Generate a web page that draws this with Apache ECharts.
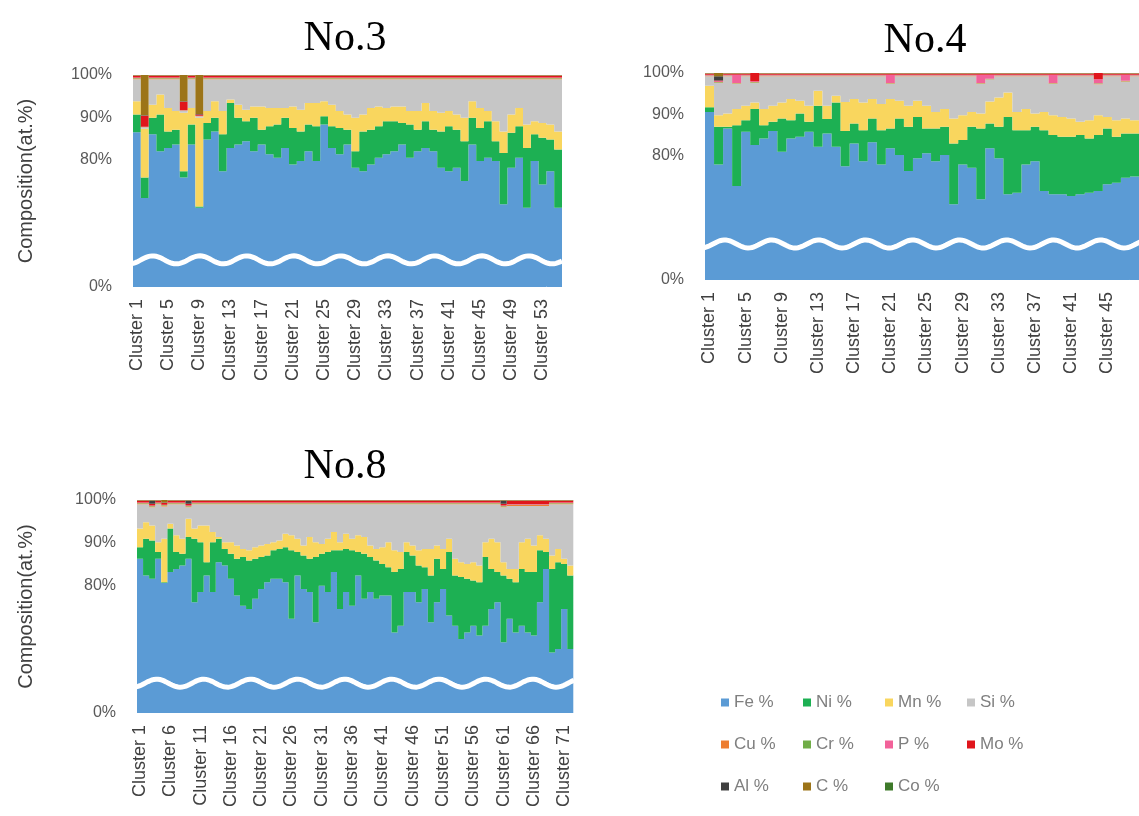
<!DOCTYPE html>
<html><head><meta charset="utf-8">
<script src="https://cdn.jsdelivr.net/npm/echarts@6/dist/echarts.min.js"></script>
<style>html,body{margin:0;padding:0;background:#fff}#c{width:1139px;height:816px}</style>
</head><body><div id="c"></div>
<script>
// ---------- shared ----------
const elements = ['Fe %','Ni %','Mn %','Si %','Cu %','Cr %','P %','Mo %','Al %','C %','Co %'];
const colors   = ['#5B9BD5','#1DB053','#F9D65E','#C6C6C6','#ED7D31','#70AD47','#F2629A','#E0161C','#404040','#9C7418','#3E7A2A'];
const yTickLabels = {100:'100%', 90:'90%', 80:'80%', 50:'0%'}; // axis is broken: bottom shown as 0%

// ---------- No.3 (55 clusters) ----------
const n3Fe = [86.5,71.0,86.0,82.0,82.8,83.6,75.8,83.6,68.7,84.8,86.7,77.3,82.8,83.6,84.4,82.0,83.6,81.3,80.5,82.8,78.9,79.7,82.0,79.7,88.3,82.8,81.3,83.6,78.1,77.3,78.9,80.5,81.3,82.0,83.6,80.5,82.0,82.8,82.0,78.1,77.3,78.1,75.0,83.6,79.7,80.5,79.7,69.5,78.1,80.5,68.7,79.7,74.2,77.3,68.7];
const n3Ni = [4.2,4.8,3.9,8.7,3.9,3.5,1.5,4.7,0.3,3.9,3.2,8.7,10.6,6.3,4.7,7.9,3.5,6.6,7.8,7.1,8.6,7.0,6.3,8.2,2.0,5.1,6.2,3.5,3.9,9.4,8.2,7.4,7.8,7.1,5.1,7.8,5.1,6.3,5.1,8.6,10.6,9.0,9.4,6.3,7.8,8.6,4.7,12.1,8.3,7.4,14.1,6.3,11.0,7.5,13.7];
const n3Mn = [3.1,11.5,3.1,4.7,5.5,4.4,13.8,3.9,20.9,2.8,3.9,5.5,0.8,3.1,2.7,2.7,5.5,4.3,3.9,2.3,5.1,5.1,5.1,5.5,3.5,5.1,4.0,3.6,7.9,4.0,5.1,4.7,3.1,3.5,3.9,3.2,4.4,4.3,4.4,4.4,3.6,3.6,5.5,3.9,4.7,2.4,4.7,5.1,4.3,4.3,5.5,3.1,3.5,3.5,4.3];
const n3Si = [5.2,0.4,6.0,3.6,6.8,7.5,0.5,6.8,0.4,7.5,5.2,7.5,4.8,6.0,7.2,6.4,6.4,6.8,6.8,6.8,6.4,7.2,5.6,5.6,5.2,6.0,7.5,8.3,9.1,8.3,6.8,6.4,6.8,6.4,6.4,7.5,7.5,5.6,7.5,7.9,7.5,8.3,9.1,5.2,6.8,7.5,9.9,12.3,8.3,6.8,10.7,9.9,10.3,10.7,12.3];
const n3Cu = [0.2,0.1,0.2,0.2,0.2,0.2,0.1,0.2,0.1,0.2,0.2,0.2,0.2,0.2,0.2,0.2,0.2,0.2,0.2,0.2,0.2,0.2,0.2,0.2,0.2,0.2,0.2,0.2,0.2,0.2,0.2,0.2,0.2,0.2,0.2,0.2,0.2,0.2,0.2,0.2,0.2,0.2,0.2,0.2,0.2,0.2,0.2,0.2,0.2,0.2,0.2,0.2,0.2,0.2,0.2];
const n3Cr = [0.1,0,0.1,0.1,0.1,0.1,0,0.1,0,0.1,0.1,0.1,0.1,0.1,0.1,0.1,0.1,0.1,0.1,0.1,0.1,0.1,0.1,0.1,0.1,0.1,0.1,0.1,0.1,0.1,0.1,0.1,0.1,0.1,0.1,0.1,0.1,0.1,0.1,0.1,0.1,0.1,0.1,0.1,0.1,0.1,0.1,0.1,0.1,0.1,0.1,0.1,0.1,0.1,0.1];
const n3P  = [0.1,0,0.1,0.1,0.1,0.1,0,0.1,0,0.1,0.1,0.1,0.1,0.1,0.1,0.1,0.1,0.1,0.1,0.1,0.1,0.1,0.1,0.1,0.1,0.1,0.1,0.1,0.1,0.1,0.1,0.1,0.1,0.1,0.1,0.1,0.1,0.1,0.1,0.1,0.1,0.1,0.1,0.1,0.1,0.1,0.1,0.1,0.1,0.1,0.1,0.1,0.1,0.1,0.1];
const n3Mo = [0.4,2.6,0.4,0.4,0.4,0.4,2.0,0.4,0.3,0.4,0.4,0.4,0.4,0.4,0.4,0.4,0.4,0.4,0.4,0.4,0.4,0.4,0.4,0.4,0.4,0.4,0.4,0.4,0.4,0.4,0.4,0.4,0.4,0.4,0.4,0.4,0.4,0.4,0.4,0.4,0.4,0.4,0.4,0.4,0.4,0.4,0.4,0.4,0.4,0.4,0.4,0.4,0.4,0.4,0.4];
const n3Al = [0.1,0.1,0.1,0.1,0.1,0.1,0.1,0.1,0.1,0.1,0.1,0.1,0.1,0.1,0.1,0.1,0.1,0.1,0.1,0.1,0.1,0.1,0.1,0.1,0.1,0.1,0.1,0.1,0.1,0.1,0.1,0.1,0.1,0.1,0.1,0.1,0.1,0.1,0.1,0.1,0.1,0.1,0.1,0.1,0.1,0.1,0.1,0.1,0.1,0.1,0.1,0.1,0.1,0.1,0.1];
const n3C  = [0.1,9.5,0.1,0.1,0.1,0.1,6.2,0.1,9.2,0.1,0.1,0.1,0.1,0.1,0.1,0.1,0.1,0.1,0.1,0.1,0.1,0.1,0.1,0.1,0.1,0.1,0.1,0.1,0.1,0.1,0.1,0.1,0.1,0.1,0.1,0.1,0.1,0.1,0.1,0.1,0.1,0.1,0.1,0.1,0.1,0.1,0.1,0.1,0.1,0.1,0.1,0.1,0.1,0.1,0.1];
const n3Co = [0,0,0,0,0,0,0,0,0,0,0,0,0,0,0,0,0,0,0,0,0,0,0,0,0,0,0,0,0,0,0,0,0,0,0,0,0,0,0,0,0,0,0,0,0,0,0,0,0,0,0,0,0,0,0];

// ---------- No.4 (48 clusters, last one cut by the frame) ----------
const n4Fe = [90.6,77.9,86.6,72.7,85.8,82.6,84.2,86.0,81.0,84.2,84.6,85.8,82.2,85.4,82.2,77.5,83.0,78.7,83.3,77.9,81.8,80.2,76.3,79.4,80.6,78.7,80.2,68.3,77.9,77.1,69.5,81.8,79.4,70.7,71.1,77.9,78.7,71.5,70.7,70.7,70.3,70.7,71.1,71.5,73.1,73.5,74.7,75.0];
const n4Ni = [1.1,9.1,0.4,14.7,2.8,8.7,3.2,2.2,8.0,4.4,5.6,2.4,9.9,3.5,10.7,8.5,4.8,7.5,5.7,8.3,4.8,8.8,10.7,10.0,6.0,7.9,6.8,14.7,5.9,9.9,17.1,6.0,7.6,18.7,15.1,8.3,8.3,14.7,14.3,13.9,14.3,14.3,13.1,13.5,13.5,11.1,10.7,10.4];
const n4Mn = [5.2,2.8,3.2,3.9,3.5,1.6,3.9,3.9,3.9,5.1,3.1,3.9,3.6,3.2,1.6,7.0,5.9,6.7,4.7,6.3,7.1,4.3,5.1,3.9,5.5,4.0,4.3,6.0,6.0,3.6,3.6,5.3,7.1,5.9,4.4,5.1,3.2,4.4,4.8,4.8,4.4,3.2,4.4,4.8,2.8,4.0,3.6,3.2];
const n4Si = [2.3,7.8,9.0,6.1,7.1,4.7,7.9,7.1,6.3,5.5,5.9,7.1,3.5,7.1,4.7,6.2,5.5,6.3,5.5,6.7,3.7,5.9,7.1,5.9,7.1,8.6,7.9,10.2,9.4,8.6,7.2,5.3,5.1,3.9,8.6,7.9,9.0,8.6,7.6,9.8,10.2,11.0,10.6,7.5,9.8,10.6,8.9,10.6];
const n4Cu = [0.1,0.1,0.1,0.1,0.1,0.1,0.1,0.1,0.1,0.1,0.1,0.1,0.1,0.1,0.1,0.1,0.1,0.1,0.1,0.1,0.1,0.1,0.1,0.1,0.1,0.1,0.1,0.1,0.1,0.1,0.1,0.1,0.1,0.1,0.1,0.1,0.1,0.1,0.1,0.1,0.1,0.1,0.1,0.1,0.1,0.1,0.1,0.1];
const n4Cr = [0.1,0.1,0.1,0.1,0.1,0.1,0.1,0.1,0.1,0.1,0.1,0.1,0.1,0.1,0.1,0.1,0.1,0.1,0.1,0.1,0.1,0.1,0.1,0.1,0.1,0.1,0.1,0.1,0.1,0.1,0.1,0.1,0.1,0.1,0.1,0.1,0.1,0.1,0.1,0.1,0.1,0.1,0.1,0.1,0.1,0.1,0.1,0.1];
const n4P  = [0.2,0.2,0.2,2.0,0.2,0.2,0.2,0.2,0.2,0.2,0.2,0.2,0.2,0.2,0.2,0.2,0.2,0.2,0.2,0.2,2.0,0.2,0.2,0.2,0.2,0.2,0.2,0.2,0.2,0.2,2.0,1.0,0.2,0.2,0.2,0.2,0.2,0.2,2.0,0.2,0.2,0.2,0.2,1.0,0.2,0.2,1.5,0.2];
const n4Mo = [0.2,0.2,0.2,0.2,0.2,2.0,0.2,0.2,0.2,0.2,0.2,0.2,0.2,0.2,0.2,0.2,0.2,0.2,0.2,0.2,0.2,0.2,0.2,0.2,0.2,0.2,0.2,0.2,0.2,0.2,0.2,0.2,0.2,0.2,0.2,0.2,0.2,0.2,0.2,0.2,0.2,0.2,0.2,1.5,0.2,0.2,0.2,0.2];
const n4Al = [0.1,1.0,0.1,0.1,0.1,0.1,0.1,0.1,0.1,0.1,0.1,0.1,0.1,0.1,0.1,0.1,0.1,0.1,0.1,0.1,0.1,0.1,0.1,0.1,0.1,0.1,0.1,0.1,0.1,0.1,0.1,0.1,0.1,0.1,0.1,0.1,0.1,0.1,0.1,0.1,0.1,0.1,0.1,0.1,0.1,0.1,0.1,0.1];
const n4C  = [0.1,0.8,0.1,0.1,0.1,0.1,0.1,0.1,0.1,0.1,0.1,0.1,0.1,0.1,0.1,0.1,0.1,0.1,0.1,0.1,0.1,0.1,0.1,0.1,0.1,0.1,0.1,0.1,0.1,0.1,0.1,0.1,0.1,0.1,0.1,0.1,0.1,0.1,0.1,0.1,0.1,0.1,0.1,0.1,0.1,0.1,0.1,0.1];
const n4Co = [0,0,0,0,0,0,0,0,0,0,0,0,0,0,0,0,0,0,0,0,0,0,0,0,0,0,0,0,0,0,0,0,0,0,0,0,0,0,0,0,0,0,0,0,0,0,0,0];

// ---------- No.8 (72 clusters) ----------
const n8Fe = [86.2,82.3,81.5,86.2,80.5,83.1,83.8,84.6,86.2,76.0,78.4,82.3,78.4,85.4,84.6,81.5,77.6,75.2,74.4,76.8,79.1,80.7,81.5,81.5,80.7,72.1,82.3,79.1,78.4,71.3,79.9,78.4,83.1,74.4,78.4,75.2,82.3,76.8,78.4,76.8,77.6,77.6,68.9,70.5,78.4,78.4,76.0,79.1,71.3,76.0,79.1,72.9,70.5,67.4,68.9,70.5,68.2,70.5,74.4,76.0,66.6,72.1,68.9,70.5,68.9,68.2,76.0,83.8,64.2,65.0,74.4,65.0];
const n8Ni = [2.7,8.6,9.0,1.6,0.2,10.2,4.0,2.8,5.1,14.9,11.7,3.1,11.7,5.5,3.9,5.9,8.6,11.4,11.4,9.4,7.5,6.3,6.7,7.0,8.2,16.1,5.5,7.9,7.8,15.3,7.5,9.4,5.1,13.8,10.1,13.0,5.5,10.6,8.2,9.0,7.4,6.6,14.2,13.3,9.4,8.6,8.6,5.1,11.0,10.2,4.7,14.9,11.8,14.5,12.6,10.6,12.5,16.1,9.4,7.1,15.7,9.4,11.8,13.3,14.2,14.9,12.2,4.0,19.6,20.4,10.6,17.3];
const n8Mn = [4.4,3.9,3.5,2.3,10.2,1.1,3.9,3.5,4.3,2.4,3.9,8.6,2.4,0.4,1.6,2.7,3.1,1.9,2.4,2.7,2.7,2.7,1.9,2.0,3.2,3.5,3.1,2.3,5.1,3.5,2.3,3.1,4.3,1.9,3.6,2.7,3.9,3.9,2.7,2.7,3.9,5.9,5.1,4.0,2.3,2.3,3.6,4.3,6.2,3.1,4.7,3.1,3.9,3.5,3.5,4.3,3.9,3.5,7.1,7.0,3.1,2.3,3.1,6.3,7.8,6.2,3.5,3.1,3.2,3.1,1.2,2.3];
const n8Si = [5.7,4.2,4.3,8.9,7.6,4.6,7.3,8.1,2.7,5.7,5.0,5.0,6.5,7.7,8.9,8.9,9.7,10.5,10.8,10.1,9.7,9.3,8.9,8.5,6.9,7.3,8.1,9.7,7.7,8.9,9.3,8.1,6.5,8.9,6.9,8.1,7.3,7.7,9.7,10.5,10.1,8.9,10.8,11.2,8.9,9.7,10.8,10.5,10.5,9.7,10.5,8.1,12.8,13.6,14.0,13.6,14.4,8.9,8.1,8.9,12.9,14.8,14.8,8.5,7.7,9.3,6.9,7.7,12.0,10.5,12.8,14.4];
const n8Cu = [0.2,0.2,0.2,0.2,0.2,0.2,0.2,0.2,0.2,0.2,0.2,0.2,0.2,0.2,0.2,0.2,0.2,0.2,0.2,0.2,0.2,0.2,0.2,0.2,0.2,0.2,0.2,0.2,0.2,0.2,0.2,0.2,0.2,0.2,0.2,0.2,0.2,0.2,0.2,0.2,0.2,0.2,0.2,0.2,0.2,0.2,0.2,0.2,0.2,0.2,0.2,0.2,0.2,0.2,0.2,0.2,0.2,0.2,0.2,0.2,0.2,0.2,0.2,0.2,0.2,0.2,0.2,0.2,0.2,0.2,0.2,0.2];
const n8Cr = [0.1,0.1,0.1,0.1,0.1,0.1,0.1,0.1,0.1,0.1,0.1,0.1,0.1,0.1,0.1,0.1,0.1,0.1,0.1,0.1,0.1,0.1,0.1,0.1,0.1,0.1,0.1,0.1,0.1,0.1,0.1,0.1,0.1,0.1,0.1,0.1,0.1,0.1,0.1,0.1,0.1,0.1,0.1,0.1,0.1,0.1,0.1,0.1,0.1,0.1,0.1,0.1,0.1,0.1,0.1,0.1,0.1,0.1,0.1,0.1,0.1,0.1,0.1,0.1,0.1,0.1,0.1,0.1,0.1,0.1,0.1,0.1];
const n8P  = [0.1,0.1,0.1,0.1,0.1,0.1,0.1,0.1,0.1,0.1,0.1,0.1,0.1,0.1,0.1,0.1,0.1,0.1,0.1,0.1,0.1,0.1,0.1,0.1,0.1,0.1,0.1,0.1,0.1,0.1,0.1,0.1,0.1,0.1,0.1,0.1,0.1,0.1,0.1,0.1,0.1,0.1,0.1,0.1,0.1,0.1,0.1,0.1,0.1,0.1,0.1,0.1,0.1,0.1,0.1,0.1,0.1,0.1,0.1,0.1,0.1,0.1,0.1,0.1,0.1,0.1,0.1,0.1,0.1,0.1,0.1,0.1];
const n8Mo = [0.4,0.4,0.4,0.4,0.4,0.4,0.4,0.4,0.4,0.4,0.4,0.4,0.4,0.4,0.4,0.4,0.4,0.4,0.4,0.4,0.4,0.4,0.4,0.4,0.4,0.4,0.4,0.4,0.4,0.4,0.4,0.4,0.4,0.4,0.4,0.4,0.4,0.4,0.4,0.4,0.4,0.4,0.4,0.4,0.4,0.4,0.4,0.4,0.4,0.4,0.4,0.4,0.4,0.4,0.4,0.4,0.4,0.4,0.4,0.4,0.4,0.8,0.8,0.8,0.8,0.8,0.8,0.8,0.4,0.4,0.4,0.4];
const n8Al = [0.1,0.1,0.8,0.1,0.1,0.1,0.1,0.1,0.8,0.1,0.1,0.1,0.1,0.1,0.1,0.1,0.1,0.1,0.1,0.1,0.1,0.1,0.1,0.1,0.1,0.1,0.1,0.1,0.1,0.1,0.1,0.1,0.1,0.1,0.1,0.1,0.1,0.1,0.1,0.1,0.1,0.1,0.1,0.1,0.1,0.1,0.1,0.1,0.1,0.1,0.1,0.1,0.1,0.1,0.1,0.1,0.1,0.1,0.1,0.1,0.8,0.1,0.1,0.1,0.1,0.1,0.1,0.1,0.1,0.1,0.1,0.1];
const n8C  = [0.1,0.1,0.1,0.1,0.6,0.1,0.1,0.1,0.1,0.1,0.1,0.1,0.1,0.1,0.1,0.1,0.1,0.1,0.1,0.1,0.1,0.1,0.1,0.1,0.1,0.1,0.1,0.1,0.1,0.1,0.1,0.1,0.1,0.1,0.1,0.1,0.1,0.1,0.1,0.1,0.1,0.1,0.1,0.1,0.1,0.1,0.1,0.1,0.1,0.1,0.1,0.1,0.1,0.1,0.1,0.1,0.1,0.1,0.1,0.1,0.1,0.1,0.1,0.1,0.1,0.1,0.1,0.1,0.1,0.1,0.1,0.1];
const n8Co = [0,0,0,0,0,0,0,0,0,0,0,0,0,0,0,0,0,0,0,0,0,0,0,0,0,0,0,0,0,0,0,0,0,0,0,0,0,0,0,0,0,0,0,0,0,0,0,0,0,0,0,0,0,0,0,0,0,0,0,0,0,0,0,0,0,0,0,0,0,0,0,0,0];

// wave (axis break) level in axis units for each panel
const waveLevels = [56.4, 58.7, 57.0];

// ---------- build ----------
const panels = [
  {title:'No.3', series:[n3Fe,n3Ni,n3Mn,n3Si,n3Cu,n3Cr,n3P,n3Mo,n3Al,n3C,n3Co], labelEvery:4, yName:true, nameGap:97,
   grid:{left:133, top:75, width:429, height:212}, titleX:345, titleY:39},
  {title:'No.4', series:[n4Fe,n4Ni,n4Mn,n4Si,n4Cu,n4Cr,n4P,n4Mo,n4Al,n4C,n4Co], labelEvery:4, yName:false, nameGap:97,
   grid:{left:705, top:73, width:437.8, height:207}, titleX:925, titleY:41},
  {title:'No.8', series:[n8Fe,n8Ni,n8Mn,n8Si,n8Cu,n8Cr,n8P,n8Mo,n8Al,n8C,n8Co], labelEvery:5, yName:true, nameGap:101,
   grid:{left:137, top:500, width:436.3, height:213}, titleX:345, titleY:467}
];

const txt = '#404040';
const font = 'Liberation Sans';
const grids=[], xAxes=[], yAxes=[], series=[], graphics=[];
panels.forEach((p, gi) => {
  const n = p.series[0].length;
  const cats = Array.from({length:n}, (_, i) => 'Cluster ' + (i + 1));
  grids.push(Object.assign({containLabel:false}, p.grid));
  xAxes.push({type:'category', gridIndex:gi, data:cats, boundaryGap:true,
    axisLine:{show:false}, axisTick:{show:false},
    axisLabel:{rotate:90, interval:p.labelEvery-1, margin:12, color:txt, fontFamily:font, fontSize:18}});
  yAxes.push({type:'value', gridIndex:gi, min:50, max:100, interval:10,
    splitLine:{show:false}, axisLine:{show:false}, axisTick:{show:false},
    axisLabel:{margin:21, color:'#595959', fontFamily:font, fontSize:16,
      formatter:v => yTickLabels[v] !== undefined ? yTickLabels[v] : ''},
    name: p.yName ? 'Composition(at.%)' : '', nameLocation:'middle', nameRotate:90, nameGap:p.nameGap,
    nameTextStyle:{color:txt, fontFamily:font, fontSize:20}});
  p.series.forEach((arr, si) => {
    series.push({type:'bar', name:elements[si], xAxisIndex:gi, yAxisIndex:gi, stack:'s'+gi,
      data:arr, barCategoryGap:'0%', large:true, largeThreshold:1,
      itemStyle:{color:colors[si]}, animation:false});
  });
  series.push({type:'custom', xAxisIndex:gi, yAxisIndex:gi, data:[[0, waveLevels[gi]]], z:10, animation:false, silent:true,
    renderItem:(params, api) => {
      const cs = params.coordSys;
      const yc = api.coord([0, api.value(1)])[1];
      const pts = [];
      const period = 47, amp = 4;
      for (let x = cs.x - 1; x <= cs.x + cs.width + 1; x += 2) {
        pts.push([x, yc - amp * Math.sin(2 * Math.PI * (x - cs.x - 8) / period)]);
      }
      return {type:'polyline', shape:{points:pts}, style:{stroke:'#ffffff', lineWidth:5, fill:null}};
    }});
  graphics.push({type:'text', x:p.titleX, y:p.titleY, style:{text:p.title,
    font:'42px "Liberation Serif"', fill:'#000', textAlign:'center', textVerticalAlign:'middle'}});
});

// legend: 4 columns x 3 rows
const legCols = [['Fe %','Cu %','Al %'],['Ni %','Cr %','C %'],['Mn %','P %','Co %'],['Si %','Mo %']];
const legX = [716, 798, 880, 962];
const legends = legCols.map((col, i) => ({
  data:col, orient:'vertical', left:legX[i], top:689, itemGap:25, itemWidth:8, itemHeight:8, icon:'rect',
  selectedMode:false, textStyle:{color:'#7F7F7F', fontFamily:font, fontSize:17, lineHeight:17}
}));

const chart = echarts.init(document.getElementById('c'), null, {renderer:'canvas'});
chart.setOption({
  animation:false, backgroundColor:'#fff',
  grid:grids, xAxis:xAxes, yAxis:yAxes, series:series, legend:legends, graphic:graphics
});
</script></body></html>
